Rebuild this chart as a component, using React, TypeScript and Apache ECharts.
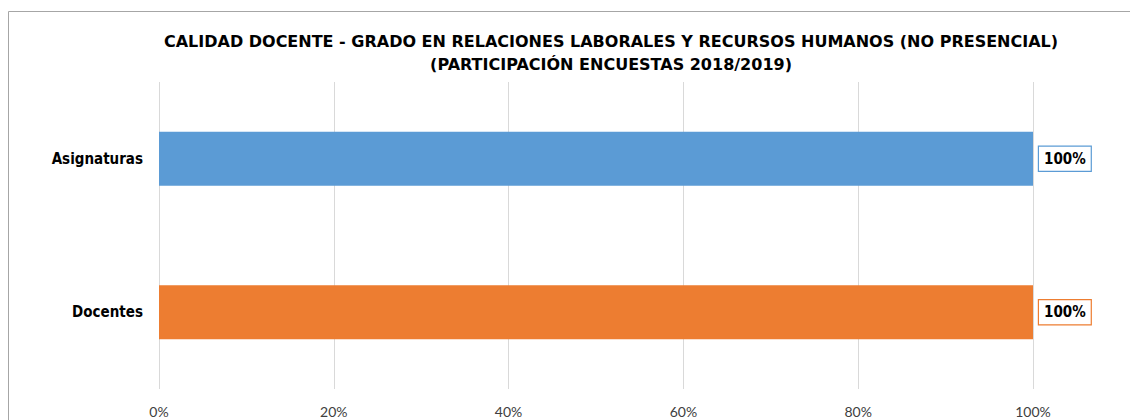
import React, { useEffect, useRef } from "react";
import * as echarts from "echarts";

const categories = ["Docentes", "Asignaturas"];
const values = [100, 100];
const barColors = ["#ED7D31", "#5B9BD5"];
const xTicks = [0, 20, 40, 60, 80, 100];
const titleLines = [
  "CALIDAD DOCENTE - GRADO EN RELACIONES LABORALES Y RECURSOS HUMANOS (NO PRESENCIAL)",
  "(PARTICIPACIÓN ENCUESTAS 2018/2019)",
];

const TITLE_FONT = "'DejaVu Sans', sans-serif";
const LABEL_FONT = "'DejaVu Sans Condensed', 'DejaVu Sans', sans-serif";

export default function App() {
  const ref = useRef<HTMLDivElement>(null);
  useEffect(() => {
    if (!ref.current) return;
    const chart = echarts.init(ref.current, null, { renderer: "svg" });
    chart.setOption({
      animation: false,
      backgroundColor: "#ffffff",
      graphic: [
        {
          type: "rect",
          shape: { x: 8.5, y: 11.5, width: 1300, height: 600 },
          style: { fill: "none", stroke: "#a6a6a6", lineWidth: 1 },
          silent: true,
        },
        ...titleLines.map((t, i) => ({
          type: "text",
          x: 611,
          y: 41 + i * 23,
          style: {
            text: t,
            fill: "#000000",
            font: `bold 16px ${TITLE_FONT}`,
            textAlign: "center",
            textVerticalAlign: "middle",
          },
        })),
      ],
      grid: { left: 159, right: 97, top: 82, bottom: 31, containLabel: false },
      xAxis: {
        type: "value",
        min: 0,
        max: 100,
        interval: 20,
        axisLine: { show: false },
        axisTick: { show: false },
        splitLine: { show: true, lineStyle: { color: "#d9d9d9", width: 1 } },
        axisLabel: {
          formatter: (v: number) => (xTicks.includes(v) ? `${v}%` : ""),
          color: "#404040",
          fontSize: 14,
          fontFamily: "Lato, 'Open Sans', sans-serif",
          margin: 15,
        },
      },
      yAxis: {
        type: "category",
        data: categories,
        axisLine: { show: false },
        axisTick: { show: false },
        axisLabel: {
          color: "#000000",
          fontSize: 15,
          fontWeight: "bold",
          fontFamily: LABEL_FONT,
          margin: 16,
        },
      },
      series: [
        {
          type: "bar",
          barWidth: 54,
          data: values.map((v, i) => ({
            value: v,
            itemStyle: { color: barColors[i] },
            label: {
              show: true,
              position: "right",
              distance: 6,
              formatter: "{c}%",
              color: "#000000",
              fontSize: 15,
              fontWeight: "bold",
              fontFamily: LABEL_FONT,
              backgroundColor: "#ffffff",
              borderColor: barColors[i],
              borderWidth: 1.2,
              padding: [5, 5, 4, 5],
            },
          })),
        },
      ],
    });
    return () => chart.dispose();
  }, []);
  return (
    <div
      ref={ref}
      style={{ position: "absolute", left: 0, top: 0, width: 1130, height: 420 }}
    />
  );
}
